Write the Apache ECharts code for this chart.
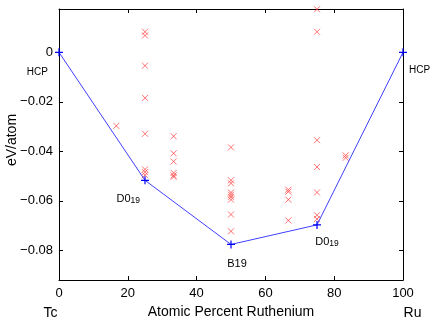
<!DOCTYPE html>
<html><head><meta charset="utf-8">
<script src="https://cdn.jsdelivr.net/npm/echarts@6/dist/echarts.min.js"></script>
<style>html,body{margin:0;padding:0;background:#fff}#c{width:436px;height:324px}</style>
</head><body><div id="c"></div>
<script>
// Convex hull (ground states)
var hullX = [0, 25, 50, 75, 100];
var hullY = [0, -0.0517, -0.0776, -0.0697, 0];
var hullNames = ['HCP', 'D0_19', 'B19', 'D0_19', 'HCP'];
// Other computed structures (red crosses)
var crossX = [16.67,
  25, 25, 25, 25, 25, 25, 25, 25,
  33.33, 33.33, 33.33, 33.33, 33.33, 33.33,
  50, 50, 50, 50, 50, 50, 50, 50, 50,
  66.67, 66.67, 66.67, 66.67,
  75, 75, 75, 75, 75, 75, 75,
  83.33, 83.33];
var crossY = [-0.0297,
  0.0083, 0.0068, -0.0054, -0.0184, -0.0329, -0.0473, -0.0484, -0.0496,
  -0.0339, -0.0408, -0.0441, -0.0487, -0.0497, -0.0503,
  -0.0384, -0.0517, -0.0529, -0.0566, -0.0575, -0.0584, -0.0595, -0.0655, -0.0723,
  -0.0555, -0.0563, -0.0595, -0.0679,
  0.0174, 0.0083, -0.0355, -0.0463, -0.0566, -0.0658, -0.0673,
  -0.0416, -0.0426];
var xTicks = [0, 20, 40, 60, 80, 100];
var yTicks = [0, -0.02, -0.04, -0.06, -0.08];
var xTitle = 'Atomic Percent Ruthenium';
var yTitle = 'eV/atom';
var xEnds = ['Tc', 'Ru'];

var FONT = 'Liberation Sans, Arial, Helvetica, sans-serif';
var labelOffsets = [[-21.7, 20.3], [-16.7, 19.2], [6, 20], [10, 17.1], [16.5, 17.5]];
function fmtName(n) {
  var m = n.match(/^(.*)_(\d+)$/);
  if (m) return '{m|' + m[1] + '}{s|' + m[2] + '}';
  if (n === 'HCP') return '{h|' + n + '}';
  return '{b|' + n + '}';
}
var hullData = hullX.map(function (x, i) {
  return {
    value: [x, hullY[i]],
    label: { show: true, position: 'inside', offset: labelOffsets[i], formatter: fmtName(hullNames[i]) }
  };
});
var crossData = crossX.map(function (x, i) { return [x, crossY[i]]; });

function yFmt(v) {
  if (Math.abs(v) < 1e-9) return '0';
  return (v < 0 ? '\u2212' : '') + Math.abs(v).toFixed(2);
}
var tickStyle = { show: true, inside: true, length: 4, lineStyle: { color: '#000', width: 1 } };
var lineStyle = { show: true, onZero: false, lineStyle: { color: '#000', width: 1 } };

var chart = echarts.init(document.getElementById('c'), null, { renderer: 'canvas' });
chart.setOption({
  animation: false,
  backgroundColor: '#fff',
  textStyle: { fontFamily: FONT },
  grid: { left: 59, right: 33, top: 9, bottom: 38 },
  xAxis: [{
    type: 'value', min: 0, max: 100, position: 'bottom',
    axisLine: lineStyle, splitLine: { show: false },
    axisTick: Object.assign({ customValues: xTicks }, tickStyle),
    axisLabel: { customValues: xTicks, color: '#000', fontSize: 13, margin: 7, fontFamily: FONT },
    name: xTitle, nameLocation: 'middle', nameGap: 20,
    nameTextStyle: { color: '#000', fontSize: 14, fontFamily: FONT }
  }, {
    type: 'value', min: 0, max: 100, position: 'top',
    axisLine: lineStyle, splitLine: { show: false },
    axisTick: Object.assign({ customValues: xTicks }, tickStyle),
    axisLabel: { show: false }
  }],
  yAxis: [{
    type: 'value', min: -0.092, max: 0.0175, position: 'left',
    axisLine: lineStyle, splitLine: { show: false },
    axisTick: Object.assign({ customValues: yTicks }, tickStyle),
    axisLabel: { customValues: yTicks, formatter: yFmt, color: '#000', fontSize: 13, margin: 6, fontFamily: FONT }
  }, {
    type: 'value', min: -0.092, max: 0.0175, position: 'right',
    axisLine: lineStyle, splitLine: { show: false },
    axisTick: Object.assign({ customValues: yTicks }, tickStyle),
    axisLabel: { show: false }
  }],
  graphic: [
    { type: 'text', x: 12, y: 140, rotation: Math.PI / 2,
      style: { text: yTitle, fontSize: 14, fontFamily: FONT, fill: '#000', align: 'center', verticalAlign: 'middle' } },
    { type: 'text', x: 50.5, y: 313, style: { text: xEnds[0], fontSize: 14, fontFamily: FONT, fill: '#000', align: 'center', verticalAlign: 'middle' } },
    { type: 'text', x: 412.5, y: 313, style: { text: xEnds[1], fontSize: 14, fontFamily: FONT, fill: '#000', align: 'center', verticalAlign: 'middle' } }
  ],
  series: [{
    type: 'scatter', xAxisIndex: 0, yAxisIndex: 0, data: crossData,
    symbol: 'path://M0,0L10,10M10,0L0,10', symbolSize: 6,
    itemStyle: { color: 'none', borderColor: '#ff3b3b', borderWidth: 0.8, opacity: 0.9 },
    clip: true, silent: true, z: 2
  }, {
    type: 'line', xAxisIndex: 0, yAxisIndex: 0, data: hullData,
    symbol: 'path://M5,0L5,10M0,5L10,5', symbolSize: 8, showAllSymbol: true,
    lineStyle: { color: '#0000ff', width: 1, opacity: 0.75 },
    itemStyle: { color: 'none', borderColor: '#0000ff', borderWidth: 1.2 },
    label: {
      color: '#000', fontFamily: FONT,
      rich: {
        h: { fontSize: 10, fontFamily: FONT, color: '#000' },
        b: { fontSize: 11, fontFamily: FONT, color: '#000' },
        m: { fontSize: 11, fontFamily: FONT, color: '#000', verticalAlign: 'top', lineHeight: 12 },
        s: { fontSize: 8.5, fontFamily: FONT, color: '#000', verticalAlign: 'bottom', lineHeight: 8, padding: [8, 0, 0, 0] }
      }
    },
    clip: false, silent: true, z: 3
  }]
});
</script></body></html>
